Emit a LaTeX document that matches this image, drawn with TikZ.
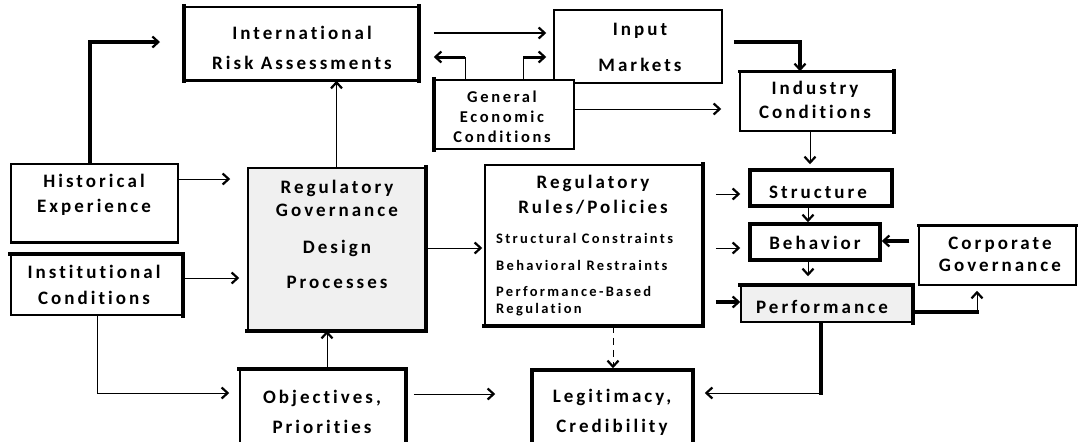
\documentclass[tikz,border=0pt]{standalone}
\usepackage{fontspec}
\newfontfamily\cf[LetterSpace=16,Ligatures={NoCommon,NoContextual}]{Carlito}
\usetikzlibrary{arrows.meta}
\begin{document}
\begin{tikzpicture}[x=1pt,y=-1pt,
  box/.style={draw=black, line width=1.5pt, inner sep=0pt, fill=white},
  gbox/.style={box, fill=black!6},
  txt/.style={inner sep=0pt, align=center, font=\cf\bfseries\fontsize{19}{#1}\selectfont},
  txt/.default=26,
  stxt/.style={inner sep=0pt, anchor=west, align=left, font=\cf\bfseries\fontsize{14.5}{17}\selectfont},
  hd/.style={-{Straight Barb[length=6pt,width=11pt,line width=2.2pt]}},
  thin/.style={line width=1pt},
  thk/.style={line width=4pt},
  side/.style={line width=4pt, line cap=rect},
]
\clip (0,0) rectangle (1080,442);
\fill[white] (0,0) rectangle (1080,442);

% ---------- boxes ----------
\node[box, minimum width=233pt, minimum height=73pt] (ira) at (301.5,43.5) {};
\draw[side] (ira.north west) -- (ira.south west);
\draw[side] (ira.north east) -- (ira.south east);
\draw[line width=3pt] (ira.south west) -- (ira.south east);

\node[box, minimum width=168pt, minimum height=73pt] (input) at (638,46.5) {};

\node[box, minimum width=139pt, minimum height=69pt] (gec) at (504.5,114.5) {};
\draw[side] (gec.north west) -- (gec.south west);

\node[box, minimum width=153pt, minimum height=59pt] (industry) at (816.5,101.5) {};
\draw[line width=3pt, line cap=rect] (industry.north west) -- (industry.north east);
\draw[side] (industry.north east) -- (industry.south east);

\node[box, minimum width=167pt, minimum height=78pt] (he) at (94.5,203) {};
\draw[line width=3pt] (he.south west) -- (he.south east);

\node[box, minimum width=171pt, minimum height=60pt] (ic) at (96.5,285) {};
\draw[side] (ic.north west) -- (ic.north east);
\draw[side] (ic.north east) -- (ic.south east);

\node[gbox, minimum width=177pt, minimum height=162pt] (design) at (336.5,249) {};
\draw[side] (design.north east) -- (design.south east);
\draw[side] (design.south west) -- (design.south east);

\node[box, minimum width=217pt, minimum height=160pt] (rules) at (593.5,245) {};
\draw[side] (rules.north east) -- (rules.south east);
\draw[side] (rules.south west) -- (rules.south east);

\node[box, line width=3.5pt, minimum width=142pt, minimum height=36pt] (structure) at (821,188) {};
\node[box, line width=3.5pt, minimum width=130pt, minimum height=36pt] (behavior) at (815,242) {};

\node[gbox, minimum width=171pt, minimum height=36pt] (perf) at (826.5,304) {};
\draw[side] (perf.north west) -- (perf.north east);
\draw[side] (perf.north east) -- (perf.south east);

\node[box, minimum width=157pt, minimum height=59pt] (corp) at (997.5,255.5) {};
\draw[line width=3pt, line cap=rect] (corp.north west) -- (corp.north east);

\node[box, minimum width=165pt, minimum height=80pt] (op) at (322.5,410) {};
\draw[side] (op.north west) -- (op.north east);
\draw[side] (op.north east) -- (op.south east);

\node[box, line width=3.5pt, minimum width=161pt, minimum height=80pt] (legit) at (612.5,410) {};

% ---------- texts ----------
\node[txt=30] (iraT) at (302,48) {International\\Risk Assessments};
\node[txt=36] (inputT) at (640,47) {Input\\Markets};
\node[txt=20, font=\cf\bfseries\fontsize{16.5}{20}\selectfont] (gecT) at (502,117) {General\\Economic\\Conditions};
\node[txt=24] (indT) at (815,100) {Industry\\Conditions};
\node[txt=25] (heT) at (94,194.5) {Historical\\Experience};
\node[txt=26] (icT) at (94,285) {Institutional\\Conditions};
\node[txt=23] (desT) at (337,234.5) {Regulatory\\Governance\\[14pt]Design\\[12pt]Processes};
\node[txt=25] (rulesT) at (593,194.5) {Regulatory\\Rules/Policies};
\node[stxt] (rs1) at (496,238) {Structural Constraints};
\node[stxt] (rs2) at (496,265) {Behavioral Restraints};
\node[stxt] (rs3) at (496,301.5) {Performance-Based\\Regulation};
\node[txt] (structT) at (818,192) {Structure};
\node[txt] (behT) at (815,243) {Behavior};
\node[txt] (perfT) at (822,307) {Performance};
\node[txt=22] (corpT) at (1000,254) {Corporate\\Governance};
\node[txt=30] (opT) at (322,412) {Objectives,\\Priorities};
\node[txt=30] (legT) at (612,412) {Legitimacy,\\Credibility};

% ---------- connectors ----------
\coordinate (heTop) at (90,42);
\coordinate (heEnd) at (160,42);
\draw[thk,hd] (he.north -| heTop) |- (heEnd);

\coordinate (y179) at (0,179);
\draw[thin,hd,shorten >=17pt] (he.east |- y179) -- (design.west |- y179);

\coordinate (y278) at (0,278);
\draw[thin,hd,shorten >=8pt] (ic.east |- y278) -- (design.west |- y278);

\coordinate (icb) at (97,393);
\draw[thin,hd,shorten >=10pt] (ic.south -| icb) |- (op.west |- icb);

\draw[thin,hd] (design.north) -- (design.north |- ira.south);

\coordinate (x327) at (327,0);
\draw[thin,hd] (op.north -| x327) -- (design.south -| x327);

\coordinate (y248) at (0,248);
\draw[thin,hd,shorten >=2pt] (design.east |- y248) -- (rules.west |- y248);

\coordinate (y33) at (0,33);
\draw[line width=2.5pt,hd,shorten <=15pt,shorten >=7pt] (ira.east |- y33) -- (input.west |- y33);

\coordinate (g1) at (465,57);
\draw[thin] (gec.north -| g1) -- (g1);
\draw[line width=3pt,hd,shorten >=15pt] (g1) -- (ira.east |- g1);

\coordinate (g2) at (523,57);
\draw[thin] (gec.north -| g2) -- (g2);
\draw[line width=3pt,hd,shorten >=7pt] (g2) -- (input.west |- g2);

\coordinate (y109) at (0,109);
\draw[thin,hd,shorten >=18pt] (gec.east |- y109) -- (industry.west |- y109);

\coordinate (ii) at (800,42);
\draw[thk,hd,shorten <=11pt] (input.east |- ii) -| (industry.north -| ii);

\coordinate (x810) at (810,0);
\draw[thin,hd,shorten >=4pt] (industry.south -| x810) -- (structure.north -| x810);

\coordinate (y194) at (0,194);
\draw[thin,hd,shorten <=13pt,shorten >=8pt] (rules.east |- y194) -- (structure.west |- y194);
\draw[thin,hd,shorten <=13pt,shorten >=8pt] (rules.east |- y248) -- (behavior.west |- y248);
\coordinate (y302) at (0,302);
\draw[thk,hd,shorten <=13pt] (rules.east |- y302) -- (perf.west |- y302);

\coordinate (x808) at (808,0);
\draw[thin,hd] (structure.south -| x808) -- (behavior.north -| x808);
\draw[thin,hd,shorten >=9pt] (behavior.south -| x808) -- (perf.north -| x808);

\coordinate (y241) at (0,241);
\draw[thk,hd,shorten <=9pt] (corp.west |- y241) -- (behavior.east |- y241);

\coordinate (pc) at (977,312);
\draw[thk,line cap=rect] (perf.east |- pc) -- (pc);
\draw[thin,hd,shorten >=5pt] (pc) -- (corp.south -| pc);

\coordinate (pl) at (821,393);
\draw[thk,line cap=rect] (perf.south -| pl) -- (pl);
\draw[thin,hd,shorten >=10pt] (pl) -- (legit.east |- pl);

\coordinate (x613) at (613,0);
\draw[thin,hd,dash pattern=on 7pt off 5pt] (rules.south -| x613) -- (legit.north -| x613);

\coordinate (y394) at (0,394);
\draw[thin,hd,shorten <=8pt,shorten >=35pt] (op.east |- y394) -- (legit.west |- y394);
\end{tikzpicture}
\end{document}
